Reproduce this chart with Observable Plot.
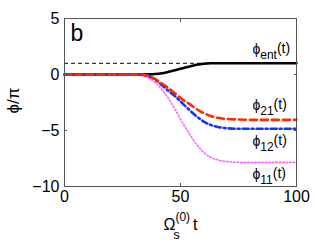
<!DOCTYPE html>
<html>
<head>
<meta charset="utf-8">
<script src="https://cdn.jsdelivr.net/npm/d3@7"></script>
<script src="https://cdn.jsdelivr.net/npm/@observablehq/plot@0.6"></script>
<style>
  html, body { margin: 0; padding: 0; background: #fff; }
  svg { font-family: "Liberation Sans", Arial, Helvetica, sans-serif; }
</style>
</head>
<body>
<div id="chart"></div>
<script>
// ---- data ----
const t      = [0, 10, 20, 30, 33, 36, 39, 42, 45, 48, 51, 54, 57, 60, 63, 66, 70, 75, 80, 90, 100];
const phiEnt = [0, 0, 0, 0, 0, 0.01, 0.04, 0.11, 0.25, 0.40, 0.56, 0.72, 0.87, 0.96, 1.0, 1.0, 1.0, 1.0, 1.0, 1.0, 1.0];
const phi21  = [0, 0, 0, 0, -0.02, -0.1, -0.4, -0.8, -1.25, -1.75, -2.25, -2.65, -3.1, -3.45, -3.7, -3.87, -3.97, -4.02, -4.05, -4.05, -4.05];
const phi12  = [0, 0, 0, 0, -0.03, -0.12, -0.45, -0.95, -1.5, -2.0, -2.6, -3.2, -3.75, -4.2, -4.5, -4.68, -4.8, -4.85, -4.85, -4.85, -4.85];
const phi11  = [0, 0, 0, -0.02, -0.1, -0.3, -0.7, -1.35, -2.2, -3.25, -4.35, -5.35, -6.25, -6.95, -7.4, -7.62, -7.78, -7.84, -7.85, -7.85, -7.85];
const refLevel = [1];
const xTicks = [0, 50, 100];
const yTicks = [-10, -5, 0, 5];
const seriesNames = ["ent", "21", "12", "11"];
const panelLetter = "b";

const toRows = (vals) => t.map((x, i) => ({t: x, v: vals[i]}));
const ent = toRows(phiEnt), s21 = toRows(phi21), s12 = toRows(phi12), s11 = toRows(phi11);

// annotation label text keyed by series
const ann = seriesNames.map(n => "ϕ_" + n + "(t)");
const annRows = [
  {label: ann[0], t: 81, v: 1.8},
  {label: ann[1], t: 81, v: -3.2},
  {label: ann[2], t: 81, v: -6.36},
  {label: ann[3], t: 81, v: -9.35}
];

const plot = Plot.plot({
  width: 327,
  height: 246,
  marginLeft: 64,
  marginRight: 31,
  marginTop: 18,
  marginBottom: 60,
  style: {fontSize: "16px", fontFamily: "Liberation Sans, Arial, sans-serif", color: "#000", background: "#fff"},
  x: {domain: [0, 100], ticks: xTicks, label: null},
  y: {domain: [-10, 5], ticks: yTicks, label: null},
  marks: [
    Plot.ruleY(refLevel, {stroke: "#000", strokeWidth: 1, strokeDasharray: "4,3"}),
    Plot.line(ent, {x: "t", y: "v", stroke: "#000", strokeWidth: 2.6, curve: "monotone-x"}),
    Plot.line(s11, {x: "t", y: "v", stroke: "#ff66ff", strokeWidth: 1.6, strokeDasharray: "1.5,2", curve: "monotone-x"}),
    Plot.line(s12, {x: "t", y: "v", stroke: "#1533ff", strokeWidth: 2.6, strokeDasharray: "6,3,2,3", curve: "monotone-x"}),
    Plot.line(s21, {x: "t", y: "v", stroke: "#ff2a00", strokeWidth: 2.6, strokeDasharray: "7,4", curve: "monotone-x"}),
    Plot.frame({stroke: "#555", strokeWidth: 1}),
    Plot.axisX({anchor: "bottom", ticks: xTicks, tickSize: -3, tickPadding: 7, stroke: "#555", fontSize: 16, label: null}),
    Plot.axisX({anchor: "top", ticks: xTicks, tickSize: -3, tickFormat: () => "", stroke: "#555", label: null}),
    Plot.axisY({anchor: "left", ticks: yTicks, tickSize: -3, tickPadding: 8, stroke: "#555", fontSize: 16, label: null, tickFormat: d => d < 0 ? "\u2212" + Math.abs(d) : String(d)}),
    Plot.axisY({anchor: "right", ticks: yTicks, tickSize: -3, tickFormat: () => "", stroke: "#555", label: null}),
    Plot.text(annRows, {x: "t", y: "v", text: "label", textAnchor: "start", lineAnchor: "bottom", fontSize: 14, fill: "#000"}),
    Plot.text([panelLetter], {frameAnchor: "top-left", dx: 6, dy: 6, text: d => d, fontSize: 23, textAnchor: "start", lineAnchor: "top"}),
    Plot.text(["ϕ/π"], {frameAnchor: "left", dx: -51, dy: -2, text: d => d, rotate: -90, fontSize: 17, textAnchor: "middle", lineAnchor: "middle"}),
    Plot.text(["Ω_X t"], {frameAnchor: "bottom", dy: 43, text: d => d, fontSize: 16, textAnchor: "middle", lineAnchor: "bottom"})
  ]
});

// rich text (sub/superscripts) with tspans
const NS = "http://www.w3.org/2000/svg";
function richify(el, segs) {
  el.textContent = "";
  let cur = 0;
  for (const [s, shift, size, dx] of segs) {
    const ts = document.createElementNS(NS, "tspan");
    ts.textContent = s;
    ts.setAttribute("dy", shift - cur);
    cur = shift;
    if (size) ts.setAttribute("font-size", size);
    if (dx) ts.setAttribute("dx", dx);
    el.appendChild(ts);
  }
}
const richMap = {};
seriesNames.forEach((n, i) => {
  richMap[ann[i]] = [["ϕ", 0, 14], [n, 5, 12], ["(t)", -1, 14]];
});
richMap["Ω_X t"] = [["Ω", 0, 16], ["(0)", -9, 12], ["s", 9, 13, -17], [" t", 0, 16, 9]];
d3.select(plot).selectAll("text").each(function () {
  const k = this.textContent;
  if (richMap[k]) richify(this, richMap[k]);
});

document.getElementById("chart").appendChild(plot);
</script>
</body>
</html>
